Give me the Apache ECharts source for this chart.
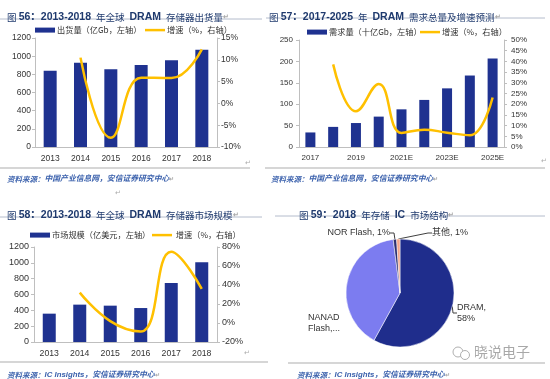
<!DOCTYPE html>
<html><head><meta charset="utf-8">
<script src="https://cdn.jsdelivr.net/npm/echarts@6/dist/echarts.min.js"></script>
<style>html,body{margin:0;padding:0;background:#fff}#c{width:550px;height:379px}</style>
</head><body><div id="c"></div>
<script>
// ---- data ----
const years1 = ['2013', '2014', '2015', '2016', '2017', '2018'];
const shipment = [840, 928, 855, 903, 954, 1072];
const shipmentGrowth = [null, 10.5, -7.9, 5.9, 5.8, 12.4];

const years2 = ['2017', '2018', '2019', '2020', '2021E', '2022E', '2023E', '2024E', '2025E'];
const demand = [34, 47, 56, 71, 88, 110, 137, 167, 207];
const demandGrowth = [null, 38.6, 16.7, 29.4, 6.6, 8.1, 6.7, 5.5, 23.1];

const years3 = ['2013', '2014', '2015', '2016', '2017', '2018'];
const marketSize = [358, 472, 459, 429, 745, 1006];
const marketGrowth = [null, 32, 2, -9, 75, 36];

const pieNames = ['DRAM', 'NANAD Flash', 'NOR Flash', '其他'];
const pieValues = [58, 40, 1, 1];
const pieLabels = ['DRAM,\n58%', 'NANAD\nFlash,...', 'NOR Flash, 1%', '其他, 1%'];

const titles = [
  ['56', '2013-2018', '年全球', 'DRAM', '存储器出货量'],
  ['57', '2017-2025', '年', 'DRAM', '需求总量及增速预测'],
  ['58', '2013-2018', '年全球', 'DRAM', '存储器市场规模'],
  ['59', '2018', '年存储', 'IC', '市场结构']
];
const sources = ['中国产业信息网，安信证券研究中心', '中国产业信息网，安信证券研究中心', 'IC Insights，安信证券研究中心', 'IC Insights，安信证券研究中心'];

const barNames = ['出货量（亿Gb，左轴）', '需求量（十亿Gb，左轴）', '市场规模（亿美元，左轴）'];
const lineNames = ['增速（%，右轴）', '增速（%，右轴） ', ' 增速（%，右轴）'];

// ---- styles ----
const NAVY = '#1f3290';
const GOLD = '#FFC000';
const AX = '#bfbfbf';
const TXT = '#333333';
const LAT = '"Liberation Sans", Arial, "Noto Sans CJK SC", sans-serif';
const CJK = '"Noto Sans CJK SC", "Liberation Sans", sans-serif';
const TCOL = '#1f3a6e';

const chart = echarts.init(document.getElementById('c'), null, {renderer: 'canvas'});

function titleComp(t, left, top) {
  return {
    left: left, top: top,
    text: '{k|图 }{b|' + t[0] + '：' + t[1] + '} {k|' + t[2] + '} {b|' + t[3] + '} {k|' + t[4] + '}{r|↵}',
    textStyle: {
      rich: {
        b: {fontFamily: LAT, fontWeight: 'bold', fontSize: 10.5, color: TCOL},
        k: {fontFamily: CJK, fontWeight: 'normal', fontSize: 9.5, color: TCOL},
        r: {fontFamily: LAT, fontSize: 7, color: '#aaaaaa'}
      }
    }
  };
}
function sourceComp(s, left, top) {
  return {
    left: left, top: top,
    text: '{k|资料来源：}{s|' + s + '}{r|↵}',
    textStyle: {
      rich: {
        k: {fontFamily: CJK, fontStyle: 'italic', fontSize: 7.5, color: '#3c62ad'},
        s: {fontFamily: LAT, fontStyle: 'italic', fontSize: 7.8, color: '#3c62ad'},
        r: {fontFamily: LAT, fontSize: 6, color: '#aaaaaa'}
      }
    }
  };
}

function catAxis(gi, data, fs, interval) {
  return {
    gridIndex: gi, type: 'category', data: data,
    axisLine: {show: true, lineStyle: {color: AX, width: 1}},
    axisTick: {show: false},
    axisLabel: {fontSize: fs, color: TXT, fontFamily: LAT, margin: 7, interval: interval},
    splitLine: {show: false}
  };
}
function valAxis(gi, pos, min, max, interval, fs, margin, fmt) {
  return {
    gridIndex: gi, type: 'value', position: pos, min: min, max: max, interval: interval,
    axisLine: {show: true, lineStyle: {color: AX, width: 1}},
    axisTick: {show: true, length: 3, lineStyle: {color: AX}},
    axisLabel: {fontSize: fs, color: TXT, fontFamily: LAT, margin: margin, formatter: fmt},
    splitLine: {show: false}
  };
}
const pct = v => v + '%';
const plain = v => String(v);

const lineBase = {
  type: 'line', smooth: 0.45, symbol: 'none', connectNulls: false,
  lineStyle: {color: GOLD, width: 2.5}, itemStyle: {color: GOLD}, z: 3
};

function barLegend(name, left, top) {
  return {
    left: left, top: top, itemWidth: 20, itemHeight: 5, width: 200,
    textStyle: {fontSize: 8.2, color: TXT, fontFamily: CJK, padding: [0, 0, 0, -3]},
    data: [{name: name, icon: 'rect', itemStyle: {color: NAVY}}]
  };
}
function lineLegend(name, left, top) {
  return {
    left: left, top: top, itemWidth: 20, itemHeight: 2.5, width: 200,
    textStyle: {fontSize: 8.2, color: TXT, fontFamily: CJK, padding: [0, 0, 0, -3]},
    data: [{name: name, icon: 'rect', itemStyle: {color: GOLD}}]
  };
}

const option = {
  animation: false,
  backgroundColor: '#ffffff',
  title: [
    titleComp(titles[0], 2, 3),
    titleComp(titles[1], 264, 3),
    titleComp(titles[2], 2, 201),
    titleComp(titles[3], 294, 201),
    sourceComp(sources[0], 2, 170),
    sourceComp(sources[1], 266, 170),
    sourceComp(sources[2], 2, 366),
    sourceComp(sources[3], 292, 366)
  ],
  legend: [
    barLegend(barNames[0], 30, 21),
    lineLegend(lineNames[0], 140, 21),
    barLegend(barNames[1], 302, 23),
    lineLegend(lineNames[1], 415, 23),
    barLegend(barNames[2], 25, 226),
    lineLegend(lineNames[2], 147, 226)
  ],
  grid: [
    {left: 35, right: 333, top: 38, bottom: 232},
    {left: 299, right: 46, top: 40, bottom: 232},
    {left: 34, right: 333, top: 247, bottom: 37}
  ],
  xAxis: [
    catAxis(0, years1, 8.5, 0),
    catAxis(1, years2, 8, 1),
    catAxis(2, years3, 8.7, 0)
  ],
  yAxis: [
    valAxis(0, 'left', 0, 1200, 200, 8.5, 4, plain),
    valAxis(0, 'right', -10, 15, 5, 8.5, 4, pct),
    valAxis(1, 'left', 0, 250, 50, 8, 6, plain),
    valAxis(1, 'right', 0, 50, 5, 8, 7, pct),
    valAxis(2, 'left', 0, 1200, 200, 9, 5, plain),
    valAxis(2, 'right', -20, 80, 20, 9, 5, pct)
  ],
  series: [
    {name: barNames[0], type: 'bar', xAxisIndex: 0, yAxisIndex: 0, data: shipment, barWidth: 13, itemStyle: {color: NAVY}},
    Object.assign({name: lineNames[0], xAxisIndex: 0, yAxisIndex: 1, data: shipmentGrowth}, lineBase),
    {name: barNames[1], type: 'bar', xAxisIndex: 1, yAxisIndex: 2, data: demand, barWidth: 10, itemStyle: {color: NAVY}},
    Object.assign({name: lineNames[1], xAxisIndex: 1, yAxisIndex: 3, data: demandGrowth}, lineBase),
    {name: barNames[2], type: 'bar', xAxisIndex: 2, yAxisIndex: 4, data: marketSize, barWidth: 13, itemStyle: {color: NAVY}},
    Object.assign({name: lineNames[2], xAxisIndex: 2, yAxisIndex: 5, data: marketGrowth}, lineBase),
    {
      name: '2018年存储IC市场结构', type: 'pie', center: [400, 293], radius: 54,
      startAngle: 90, clockwise: true, avoidLabelOverlap: false,
      data: pieNames.map((n, i) => ({
        name: n, value: pieValues[i],
        itemStyle: {color: ['#1f2d8c', '#7c7cf0', '#2b2f72', '#f4a58a'][i]},
        labelLine: {show: i !== 1}
      })),
      itemStyle: {borderColor: '#ffffff', borderWidth: 0.5},
      label: {
        show: true, position: 'outside', fontSize: 9, color: TXT, fontFamily: LAT, lineHeight: 11,
        formatter: p => pieLabels[p.dataIndex]
      },
      labelLine: {show: true, length: 4, length2: 4, lineStyle: {color: '#404040', width: 1}},
      labelLayout: function (p) {
        const pos = [
          {x: 457, y: 313, align: 'left'},
          {x: 308, y: 323, align: 'left'},
          {x: 390, y: 233, align: 'right'},
          {x: 432, y: 233, align: 'left'}
        ][p.dataIndex];
        return {x: pos.x, y: pos.y, align: pos.align, verticalAlign: 'middle'};
      }
    }
  ],
  graphic: [
    // title underlines
    {type: 'line', shape: {x1: 0, y1: 19, x2: 262, y2: 19}, style: {stroke: '#b4bccc', lineWidth: 1}},
    {type: 'line', shape: {x1: 266, y1: 18, x2: 545, y2: 18}, style: {stroke: '#b4bccc', lineWidth: 1}},
    {type: 'line', shape: {x1: 0, y1: 217, x2: 262, y2: 217}, style: {stroke: '#b4bccc', lineWidth: 1}},
    {type: 'line', shape: {x1: 275, y1: 216, x2: 545, y2: 216}, style: {stroke: '#b4bccc', lineWidth: 1}},
    // source separators
    {type: 'line', shape: {x1: 0, y1: 168, x2: 250, y2: 168}, style: {stroke: '#c8c8c8', lineWidth: 1.5}},
    {type: 'line', shape: {x1: 265, y1: 168, x2: 545, y2: 168}, style: {stroke: '#c8c8c8', lineWidth: 1.5}},
    {type: 'line', shape: {x1: 0, y1: 362, x2: 268, y2: 362}, style: {stroke: '#c8c8c8', lineWidth: 1.5}},
    {type: 'line', shape: {x1: 288, y1: 363, x2: 545, y2: 363}, style: {stroke: '#c8c8c8', lineWidth: 1.5}},
    // return marks
    {type: 'text', x: 245, y: 160, style: {text: '↵', fontSize: 7, fill: '#aaaaaa'}},
    {type: 'text', x: 541, y: 158, style: {text: '↵', fontSize: 7, fill: '#aaaaaa'}},
    {type: 'text', x: 115, y: 190, style: {text: '↵', fontSize: 7, fill: '#aaaaaa'}},
    {type: 'text', x: 244, y: 350, style: {text: '↵', fontSize: 7, fill: '#aaaaaa'}},
    // watermark
    {type: 'circle', shape: {cx: 458, cy: 352, r: 5}, style: {fill: 'none', stroke: '#b0b0b0', lineWidth: 1}},
    {type: 'circle', shape: {cx: 465, cy: 355, r: 4.5}, style: {fill: '#ffffff', stroke: '#b0b0b0', lineWidth: 1}},
    {type: 'text', x: 474, y: 345, style: {text: '晓说电子', fontSize: 14, fontFamily: CJK, fill: '#a8a8a8'}}
  ]
};
chart.setOption(option);
</script>
</body></html>
